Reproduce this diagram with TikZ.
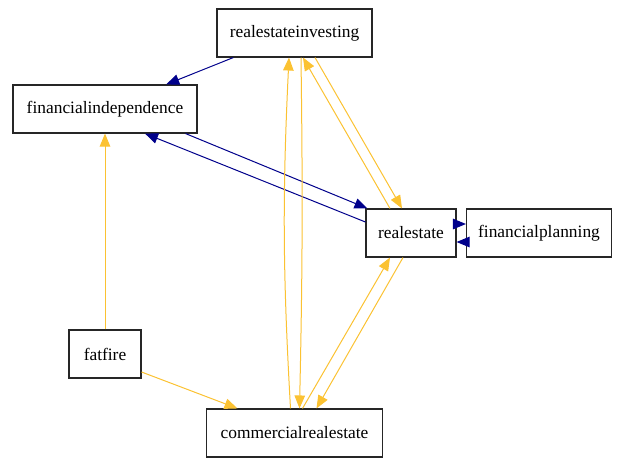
\documentclass[tikz,border=0pt]{standalone}
\usepackage{fontspec}
\setmainfont{Liberation Serif}
\usetikzlibrary{arrows.meta}
\definecolor{edgenavy}{RGB}{0,0,139}
\definecolor{edgegold}{RGB}{251,194,50}

\begin{document}
\begin{tikzpicture}[x=1pt, y=-1pt]
\tikzstyle{vertex} = [rectangle, draw = black!85, line width=1.1pt, inner xsep=0pt, minimum height=48pt, font=\fontsize{17.4pt}{21pt}\selectfont]
\tikzstyle{edge} = [-{Triangle[length=13pt, width=10.5pt]}, line width=1pt]
\tikzstyle{blueedge} = [edge, edgenavy]
\tikzstyle{goldedge} = [edge, edgegold]
\useasboundingbox (0, 0) rectangle (618, 464);
% -----------------------------------
% nodes
\node[vertex, minimum width=155pt] (rei) at (294.5, 33) {realestateinvesting};
\node[vertex, minimum width=184pt] (fi) at (105, 109) {financialindependence};
\node[vertex, minimum width=90pt] (re) at (411, 233) {realestate};
\node[vertex, minimum width=145pt] (fp) at (539, 233) {financialplanning};
\node[vertex, minimum width=72pt] (ff) at (105, 354) {fatfire};
\node[vertex, minimum width=176pt] (cre) at (294.5, 433) {commercialrealestate};

% -----------------------------------
% blue edges
\draw[blueedge] (rei)--(fi);
\draw[blueedge] ([xshift=-12pt]fi.south east)--([xshift=2pt]re.north west);
\draw[blueedge] ([yshift=11pt]re.west)--([xshift=40pt]fi.south);
\draw[blueedge] ([yshift=9pt]re.east)--([yshift=9pt]fp.west);
\draw[blueedge] ([yshift=-9pt]fp.west)--([yshift=-9pt]re.east);

% -----------------------------------
% gold edges
\draw[goldedge] ([xshift=-4pt]cre.north) to[bend left=3] ([xshift=-5.5pt]rei.south);
\draw[goldedge] ([xshift=6.5pt]rei.south) to[bend left=1] ([xshift=5pt]cre.north);
\draw[goldedge] ([xshift=-21pt]re.north)--([xshift=8.5pt]rei.south);
\draw[goldedge] ([xshift=20.5pt]rei.south)--([xshift=-9pt]re.north);
\draw[goldedge] ([xshift=8pt]cre.north)--([xshift=-21pt]re.south);
\draw[goldedge] ([xshift=-8pt]re.south)--([xshift=22pt]cre.north);
\draw[goldedge] (ff)--(fi);
\draw[goldedge] ([yshift=-18pt]ff.east)--([xshift=-57pt]cre.north);
% -----------------------------------
\end{tikzpicture}
\end{document}
